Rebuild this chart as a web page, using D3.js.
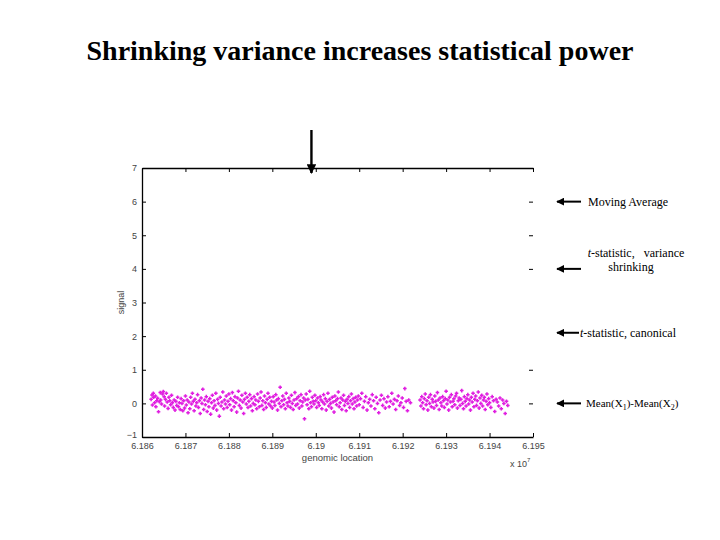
<!DOCTYPE html>
<html>
<head>
<meta charset="utf-8">
<script src="https://cdn.jsdelivr.net/npm/d3@7"></script>
<style>
  body { margin: 0; background: #fff; }
  svg { display: block; }
  .tick text { font-family: "Liberation Sans", Arial, sans-serif; fill: #444; }
</style>
</head>
<body>
<svg width="720" height="540"></svg>
<script>
const svg = d3.select('svg');

// chart data, location in units of 10^7 bp
const xTicks = [6.186, 6.187, 6.188, 6.189, 6.19, 6.191, 6.192, 6.193, 6.194, 6.195];
const yTicks = [-1, 0, 1, 2, 3, 4, 5, 6, 7];
const rightTicks = [0, 1, 4, 5, 6];
const labels = [
  { text: 'Moving Average', y: 6 },
  { text: 't-statistic, variance shrinking', y: 4 },
  { text: 't-statistic, canonical', y: 2.1 },
  { text: 'Mean(X1)-Mean(X2)', y: 0 }
];
const markedLocation = 6.1899;

const points = [
  [6.18621,0.12],[6.18623,0.25],[6.18624,-0.05],[6.18626,0.30],[6.18627,0.18],[6.18629,0.02],[6.18631,0.22],[6.18632,-0.10],
  [6.18634,0.08],[6.18636,0.15],[6.18638,-0.25],[6.18640,0.05],[6.18642,0.32],[6.18643,0.10],[6.18645,-0.02],[6.18647,0.28],
  [6.18649,0.35],[6.18651,0.20],[6.18652,-0.08],[6.18654,0.12],[6.18656,0.30],[6.18658,0.04],[6.18660,-0.15],[6.18662,0.18],
  [6.18664,0.08],[6.18666,-0.04],[6.18668,0.24],[6.18670,0.02],[6.18672,-0.12],[6.18674,0.10],[6.18676,-0.20],[6.18678,0.06],
  [6.18680,-0.06],[6.18682,0.18],[6.18684,-0.10],[6.18686,0.02],[6.18688,-0.18],[6.18690,0.14],[6.18692,0.00],[6.18694,-0.22],
  [6.18696,0.08],[6.18698,-0.14],
  [6.18700,0.22],[6.18702,-0.05],[6.18704,0.10],[6.18706,-0.28],[6.18708,0.04],[6.18710,-0.16],[6.18712,0.18],[6.18714,-0.02],
  [6.18716,0.30],[6.18718,0.06],[6.18720,-0.22],[6.18722,0.12],[6.18724,-0.08],[6.18726,0.02],[6.18728,0.26],[6.18730,-0.12],
  [6.18732,0.08],[6.18734,-0.30],[6.18736,0.16],[6.18738,0.00],[6.18740,0.42],[6.18742,-0.18],[6.18744,0.10],[6.18746,-0.04],
  [6.18748,0.20],[6.18750,-0.24],[6.18752,0.06],[6.18754,-0.10],[6.18756,0.14],[6.18758,-0.32],[6.18760,0.02],[6.18762,0.24],
  [6.18764,-0.14],[6.18766,0.08],[6.18768,-0.06],[6.18770,0.30],[6.18772,-0.20],[6.18774,0.12],[6.18776,0.00],[6.18778,-0.38],
  [6.18780,0.18],[6.18782,-0.08],[6.18784,0.04],[6.18786,0.34],[6.18788,-0.16],[6.18790,0.10],[6.18792,-0.02],[6.18794,0.22],
  [6.18796,-0.12],[6.18798,0.06],
  [6.18800,0.28],[6.18802,-0.04],[6.18804,0.14],[6.18806,-0.20],[6.18808,0.32],[6.18810,0.08],[6.18812,-0.10],[6.18814,0.20],
  [6.18816,0.02],[6.18818,-0.26],[6.18820,0.16],[6.18822,0.36],[6.18824,-0.06],[6.18826,0.10],[6.18828,-0.14],[6.18830,0.24],
  [6.18832,0.04],[6.18834,-0.30],[6.18836,0.12],[6.18838,0.30],[6.18840,-0.02],[6.18842,0.18],[6.18844,-0.12],[6.18846,0.06],
  [6.18848,0.26],[6.18850,-0.08],[6.18852,0.14],[6.18854,-0.22],[6.18856,0.00],[6.18858,0.20],[6.18860,-0.04],[6.18862,0.10],
  [6.18864,-0.16],[6.18866,0.28],[6.18868,0.06],[6.18870,-0.10],[6.18872,0.16],[6.18874,0.34],[6.18876,-0.06],[6.18878,0.08],
  [6.18880,-0.18],[6.18882,0.22],[6.18884,0.02],[6.18886,-0.12],[6.18888,0.12],[6.18890,0.30],[6.18892,-0.02],[6.18894,0.18],
  [6.18896,-0.08],[6.18898,0.06],
  [6.18900,-0.14],[6.18902,0.20],[6.18904,0.04],[6.18906,-0.06],[6.18908,0.26],[6.18910,0.10],[6.18912,-0.20],[6.18914,0.14],
  [6.18916,0.00],[6.18918,0.48],[6.18920,-0.10],[6.18922,0.08],[6.18924,0.22],[6.18926,-0.04],[6.18928,0.12],[6.18930,-0.16],
  [6.18932,0.30],[6.18934,0.02],[6.18936,-0.08],[6.18938,0.16],[6.18940,0.06],[6.18942,-0.12],[6.18944,0.24],[6.18946,0.00],
  [6.18948,-0.18],[6.18950,0.10],[6.18952,0.32],[6.18954,-0.06],[6.18956,0.14],[6.18958,-0.02],[6.18960,0.20],[6.18962,-0.14],
  [6.18964,0.08],[6.18966,0.26],[6.18968,-0.08],[6.18970,0.04],[6.18972,0.16],[6.18974,-0.46],[6.18976,0.10],[6.18978,0.28],
  [6.18980,-0.04],[6.18982,0.12],[6.18984,-0.16],[6.18986,0.36],[6.18988,0.02],[6.18990,-0.10],[6.18992,0.18],[6.18994,0.06],
  [6.18996,-0.02],[6.18998,0.24],
  [6.19000,0.08],[6.19002,-0.12],[6.19004,0.16],[6.19006,0.02],[6.19008,-0.06],[6.19010,0.20],[6.19012,0.10],[6.19014,-0.16],
  [6.19016,0.04],[6.19018,0.26],[6.19020,-0.02],[6.19022,0.14],[6.19024,-0.20],[6.19026,0.06],[6.19028,0.30],[6.19030,-0.08],
  [6.19032,0.12],[6.19034,0.00],[6.19036,-0.14],[6.19038,0.18],[6.19040,0.04],[6.19042,-0.26],[6.19044,0.22],[6.19046,0.08],
  [6.19048,-0.04],[6.19050,0.14],[6.19052,0.34],[6.19054,-0.10],[6.19056,0.02],[6.19058,0.16],[6.19060,-0.18],[6.19062,0.10],
  [6.19064,0.24],[6.19066,-0.06],[6.19068,0.06],[6.19070,-0.22],[6.19072,0.12],[6.19074,0.00],[6.19076,0.20],[6.19078,-0.12],
  [6.19080,0.08],[6.19082,0.28],[6.19084,-0.02],[6.19086,0.14],[6.19088,-0.16],[6.19090,0.04],[6.19092,0.18],[6.19094,-0.08],
  [6.19096,0.10],[6.19098,0.22],
  [6.19100,-0.04],[6.19103,0.14],[6.19106,0.30],[6.19109,-0.12],[6.19112,0.06],[6.19115,0.20],[6.19118,-0.20],[6.19121,0.02],
  [6.19124,0.12],[6.19127,-0.08],[6.19130,0.26],[6.19133,0.08],[6.19136,-0.16],[6.19139,0.18],[6.19142,0.00],[6.19145,-0.28],
  [6.19148,0.10],[6.19151,0.24],[6.19154,-0.06],[6.19157,0.14],[6.19160,-0.14],[6.19163,0.04],[6.19166,0.20],[6.19169,-0.10],
  [6.19172,0.06],[6.19175,0.30],[6.19178,-0.02],[6.19181,0.12],[6.19184,-0.18],[6.19187,0.08],[6.19190,0.22],[6.19193,-0.06],
  [6.19196,0.02],[6.19199,0.16],[6.19202,-0.12],[6.19205,0.44],[6.19208,0.06],[6.19211,-0.22],[6.19214,0.10],[6.19218,0.02],
  [6.19240,0.10],[6.19242,-0.08],[6.19244,0.20],[6.19246,0.02],[6.19248,-0.16],[6.19250,0.14],[6.19252,0.28],[6.19254,-0.04],
  [6.19256,0.08],[6.19258,-0.20],[6.19260,0.18],[6.19262,0.00],[6.19264,0.26],[6.19266,-0.10],[6.19268,0.12],[6.19270,0.04],
  [6.19272,-0.14],[6.19274,0.22],[6.19276,0.06],[6.19278,-0.06],[6.19280,0.32],[6.19282,0.10],[6.19284,-0.18],[6.19286,0.16],
  [6.19288,0.02],[6.19290,-0.08],[6.19292,0.20],[6.19294,0.08],[6.19296,-0.12],[6.19298,0.14],[6.19300,0.36],[6.19302,-0.02],
  [6.19304,0.10],[6.19306,-0.20],[6.19308,0.18],[6.19310,0.04],[6.19312,0.26],[6.19314,-0.10],[6.19316,0.06],[6.19318,0.14],
  [6.19320,-0.04],[6.19322,0.22],[6.19324,0.30],[6.19326,-0.14],[6.19328,0.08],[6.19330,0.16],[6.19332,-0.06],[6.19334,0.12],
  [6.19336,0.38],[6.19338,0.00],[6.19340,-0.16],[6.19342,0.20],[6.19344,0.06],[6.19346,-0.08],[6.19348,0.14],
  [6.19350,0.26],[6.19352,-0.02],[6.19354,0.10],[6.19356,-0.20],[6.19358,0.18],[6.19360,0.04],[6.19362,0.30],[6.19364,-0.10],
  [6.19366,0.12],[6.19368,0.22],[6.19370,-0.06],[6.19372,0.08],[6.19374,0.34],[6.19376,-0.14],[6.19378,0.16],[6.19380,0.00],
  [6.19382,0.24],[6.19384,-0.08],[6.19386,0.10],[6.19388,0.18],[6.19390,-0.18],[6.19392,0.06],[6.19394,0.28],[6.19396,-0.04],
  [6.19398,0.14],[6.19400,0.02],[6.19403,-0.12],[6.19406,0.20],[6.19409,0.08],[6.19412,-0.24],[6.19415,0.12],[6.19418,0.04],
  [6.19421,-0.08],[6.19424,0.16],[6.19427,-0.16],[6.19430,0.10],[6.19433,0.00],[6.19436,-0.30],[6.19439,0.06],[6.19442,-0.06]
];

const plot = { left: 142, right: 533, top: 168, bottom: 437 };
const x = d3.scaleLinear().domain([6.186, 6.195]).range([plot.left, plot.right]);
const y = d3.scaleLinear().domain([-1, 7]).range([plot.bottom, plot.top]);
const fmt = d => String(+d.toFixed(3));

// title
svg.append('text')
  .attr('x', 360).attr('y', 60)
  .attr('text-anchor', 'middle')
  .attr('font-family', '"Liberation Serif", "Times New Roman", serif')
  .attr('font-weight', 700)
  .attr('font-size', 28)
  .text('Shrinking variance increases statistical power');

// axes, MATLAB style inward ticks
const axisG = svg.append('g');
axisG.append('g')
  .attr('transform', `translate(0,${plot.bottom})`)
  .call(d3.axisBottom(x).tickValues(xTicks).tickFormat(fmt).tickSize(-4).tickPadding(6).tickSizeOuter(0))
  .call(g => g.selectAll('text').attr('font-size', 9));
axisG.append('g')
  .attr('transform', `translate(0,${plot.top})`)
  .call(d3.axisTop(x).tickValues(xTicks).tickFormat('').tickSize(-4).tickSizeOuter(0));
axisG.append('g')
  .attr('transform', `translate(${plot.left},0)`)
  .call(d3.axisLeft(y).tickValues(yTicks).tickFormat(d3.format('d')).tickSize(-4).tickPadding(5).tickSizeOuter(0))
  .call(g => g.selectAll('text').attr('font-size', 9))
  .call(g => g.selectAll('.tick').filter(d => d === -1).select('text').attr('dy', '0.1em'));
axisG.append('g')
  .attr('transform', `translate(${plot.right},0)`)
  .call(d3.axisRight(y).tickValues(rightTicks).tickFormat('').tickSize(-4))
  .call(g => g.select('.domain').remove());
axisG.selectAll('.domain').attr('stroke-width', 1.3);

// axis titles
const small = '"Liberation Sans", Arial, sans-serif';
svg.append('text')
  .attr('transform', `translate(124,${y(3)}) rotate(-90)`)
  .attr('text-anchor', 'middle')
  .attr('font-family', small).attr('font-size', 9).attr('fill', '#444')
  .text('signal');
svg.append('text')
  .attr('x', x(6.1905)).attr('y', 461)
  .attr('text-anchor', 'middle')
  .attr('font-family', small).attr('font-size', 9.5).attr('fill', '#444')
  .text('genomic location');
const mult = svg.append('text')
  .attr('x', 510).attr('y', 467)
  .attr('font-family', small).attr('font-size', 9).attr('fill', '#444');
mult.append('tspan').text('x 10');
mult.append('tspan').attr('dy', -5).attr('font-size', 6).text('7');

// scatter of plus markers
svg.append('g')
  .attr('stroke', '#e01ee0')
  .attr('stroke-width', 1.5)
  .selectAll('path')
  .data(points)
  .join('path')
  .attr('d', d => `M${x(d[0]) - 1.8},${y(d[1])}h3.6M${x(d[0])},${y(d[1]) - 1.8}v3.6`);

// arrows
const defs = svg.append('defs');
defs.append('marker')
  .attr('id', 'head')
  .attr('viewBox', '0 0 10 10')
  .attr('refX', 9).attr('refY', 5)
  .attr('markerWidth', 4).attr('markerHeight', 4)
  .attr('orient', 'auto')
  .append('path').attr('d', 'M0,0L10,5L0,10z').attr('fill', '#000');

svg.append('line')
  .attr('x1', x(markedLocation)).attr('x2', x(markedLocation))
  .attr('y1', 130).attr('y2', plot.top + 5)
  .attr('stroke', '#000').attr('stroke-width', 2.4)
  .attr('marker-end', 'url(#head)');

const serif = '"Liberation Serif", "Times New Roman", serif';
const ann = svg.append('g').attr('font-family', serif).attr('font-size', 12);
labels.forEach((l, i) => {
  const yy = y(l.y);
  ann.append('line')
    .attr('x1', i === 2 ? 579 : 581).attr('x2', 557)
    .attr('y1', yy).attr('y2', yy)
    .attr('stroke', '#000').attr('stroke-width', 2)
    .attr('marker-end', 'url(#head)');
});
ann.append('text').attr('x', 588).attr('y', y(6) + 4).text('Moving Average');
const ts = ann.append('text').attr('x', 636).attr('y', y(4) - 12).attr('text-anchor', 'middle');
ts.append('tspan').attr('font-style', 'italic').text('t');
ts.append('tspan').attr('xml:space', 'preserve').text('-statistic,   variance');
ann.append('text').attr('x', 631).attr('y', y(4) + 2).attr('text-anchor', 'middle').text('shrinking');
const tc = ann.append('text').attr('x', 580).attr('y', y(2.1) + 4);
tc.append('tspan').attr('font-style', 'italic').text('t');
tc.append('tspan').text('-statistic, canonical');
const mn = ann.append('text').attr('x', 586).attr('y', y(0) + 4).attr('font-size', 11);
mn.append('tspan').text('Mean(X');
mn.append('tspan').attr('dy', 3).attr('font-size', 8).text('1');
mn.append('tspan').attr('dy', -3).text(')-Mean(X');
mn.append('tspan').attr('dy', 3).attr('font-size', 8).text('2');
mn.append('tspan').attr('dy', -3).text(')');
</script>
</body>
</html>
